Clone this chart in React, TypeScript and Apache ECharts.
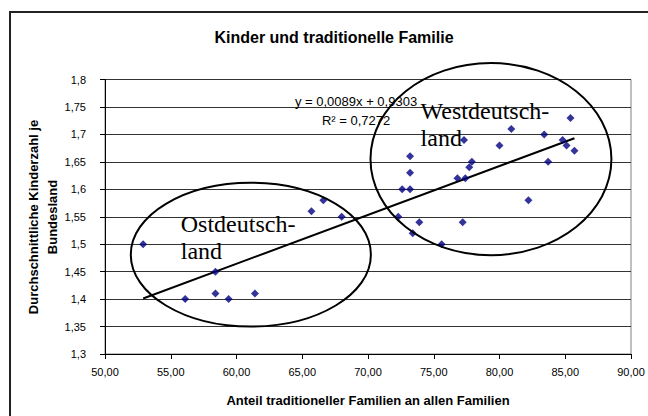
import React, { useEffect, useRef } from "react";
import * as echarts from "echarts";

// Anteil traditioneller Familien (x) vs. durchschnittliche Kinderzahl (y)
const ostX = [52.9, 56.1, 58.4, 58.4, 59.4, 61.4, 65.7, 66.6, 68.0];
const ostY = [1.50, 1.40, 1.45, 1.41, 1.40, 1.41, 1.56, 1.58, 1.55];
const westX = [72.3, 72.6, 73.2, 73.2, 73.2, 73.4, 73.9, 75.6, 76.8, 77.2, 77.3, 77.4, 77.7, 77.9, 80.0, 80.9, 82.2, 83.4, 83.7, 84.8, 85.1, 85.4, 85.7];
const westY = [1.55, 1.60, 1.60, 1.63, 1.66, 1.52, 1.54, 1.50, 1.62, 1.54, 1.69, 1.62, 1.64, 1.65, 1.68, 1.71, 1.58, 1.70, 1.65, 1.69, 1.68, 1.73, 1.67];

// Linear trend line (as printed in the chart)
const slope = 0.0089;
const intercept = 0.9303;
const equationText = "y = 0,0089x + 0,9303";
const r2Text = "R² = 0,7272";

// Ellipses around groups: [centerX, centerY, radiusX, radiusY] in data units
const ellipseNames = ["Ostdeutsch-\nland", "Westdeutsch-\nland"];
const ellipses = [
  [61.09, 1.481, 9.13, 0.131],
  [79.35, 1.655, 9.16, 0.175],
];
const labelAnchors = [
  [55.76, 1.562],
  [74.0, 1.768],
];
const equationAnchor = [69.09, 1.777];

const title = "Kinder und traditionelle Familie";
const xTitle = "Anteil traditioneller Familien an allen Familien";
const yTitle = "Durchschnittliche Kinderzahl je\nBundesland";

export default function App() {
  const ref = useRef<HTMLDivElement>(null);
  useEffect(() => {
    if (!ref.current) return;
    const chart = echarts.init(ref.current, undefined, { renderer: "svg" });
    const points: number[][] = [];
    ostX.forEach((x, i) => points.push([x, ostY[i]]));
    westX.forEach((x, i) => points.push([x, westY[i]]));
    const allX = points.map((p) => p[0]);
    const minX = Math.min(...allX);
    const maxX = Math.max(...allX);
    const trend = [
      [minX, slope * minX + intercept],
      [maxX, slope * maxX + intercept],
    ];
    const font = "'Liberation Sans', Arial, sans-serif";
    const serif = "'Liberation Serif', 'Times New Roman', serif";

    chart.setOption({
      animation: false,
      backgroundColor: "#fff",
      grid: { left: 105, right: 17, top: 79.5, bottom: 62, show: true, borderColor: "#808080", borderWidth: 1 },
      xAxis: {
        type: "value",
        min: 50,
        max: 90,
        interval: 5,
        axisLine: { show: true, lineStyle: { color: "#000", width: 1 } },
        axisTick: { show: true, length: 5, lineStyle: { color: "#000" } },
        splitLine: { show: false },
        axisLabel: {
          color: "#000",
          fontFamily: font,
          fontSize: 11,
          margin: 12,
          formatter: (v: number) => v.toFixed(2).replace(".", ","),
        },
      },
      yAxis: {
        type: "value",
        min: 1.3,
        max: 1.8,
        interval: 0.05,
        axisLine: { show: true, lineStyle: { color: "#000", width: 1 } },
        axisTick: { show: true, length: 5, lineStyle: { color: "#000" } },
        splitLine: { show: true, lineStyle: { color: "#333", width: 1 } },
        axisLabel: {
          color: "#000",
          fontFamily: font,
          fontSize: 11,
          margin: 19,
          formatter: (v: number) => String(Math.round(v * 100) / 100).replace(".", ","),
        },
      },
      series: [
        {
          type: "line",
          data: trend,
          showSymbol: false,
          symbol: "none",
          lineStyle: { color: "#000", width: 2 },
          z: 3,
        },
        {
          type: "scatter",
          data: points,
          symbol: "diamond",
          symbolSize: 8,
          itemStyle: { color: "#000080" },
          z: 4,
        },
        {
          type: "custom",
          clip: false,
          data: ellipses,
          z: 5,
          renderItem: (params: any, api: any) => {
            const i = params.dataIndex;
            const e = ellipses[i];
            const c = api.coord([e[0], e[1]]);
            const s = api.size([e[2], e[3]]);
            const a = api.coord(labelAnchors[i]);
            return {
              type: "group",
              children: [
                {
                  type: "ellipse",
                  shape: { cx: c[0], cy: c[1], rx: s[0], ry: s[1] },
                  style: { fill: "none", stroke: "#000", lineWidth: 2 },
                },
                {
                  type: "text",
                  x: a[0],
                  y: a[1],
                  style: {
                    text: ellipseNames[i],
                    fill: "#000",
                    font: `24px ${serif}`,
                    lineHeight: 27,
                    align: "left",
                    verticalAlign: "top",
                  },
                },
              ],
            };
          },
        },
        {
          type: "custom",
          clip: false,
          data: [equationAnchor],
          z: 6,
          renderItem: (params: any, api: any) => {
            const p = api.coord(equationAnchor);
            return {
              type: "text",
              x: p[0],
              y: p[1],
              style: {
                text: equationText + "\n" + r2Text,
                fill: "#000",
                font: `13px ${font}`,
                lineHeight: 19,
                align: "center",
                verticalAlign: "top",
              },
            };
          },
        },
      ],
      graphic: [
        {
          type: "rect",
          shape: { x: 10, y: 12, width: 700, height: 500 },
          style: { fill: "none", stroke: "#222", lineWidth: 2 },
          silent: true,
        },
        {
          type: "text",
          x: 334,
          y: 37,
          style: {
            text: title,
            fill: "#000",
            font: `bold 16px ${font}`,
            align: "center",
            verticalAlign: "middle",
          },
        },
        {
          type: "text",
          x: 368,
          y: 400,
          style: {
            text: xTitle,
            fill: "#000",
            font: `bold 13px ${font}`,
            align: "center",
            verticalAlign: "middle",
          },
        },
        {
          type: "text",
          x: 43,
          y: 217,
          rotation: Math.PI / 2,
          style: {
            text: yTitle,
            fill: "#000",
            font: `bold 13px ${font}`,
            lineHeight: 19,
            align: "center",
            verticalAlign: "middle",
          },
        },
      ],
    });
    return () => chart.dispose();
  }, []);
  return (
    <div
      ref={ref}
      style={{ position: "absolute", left: 0, top: 0, width: 648, height: 416 }}
    />
  );
}
